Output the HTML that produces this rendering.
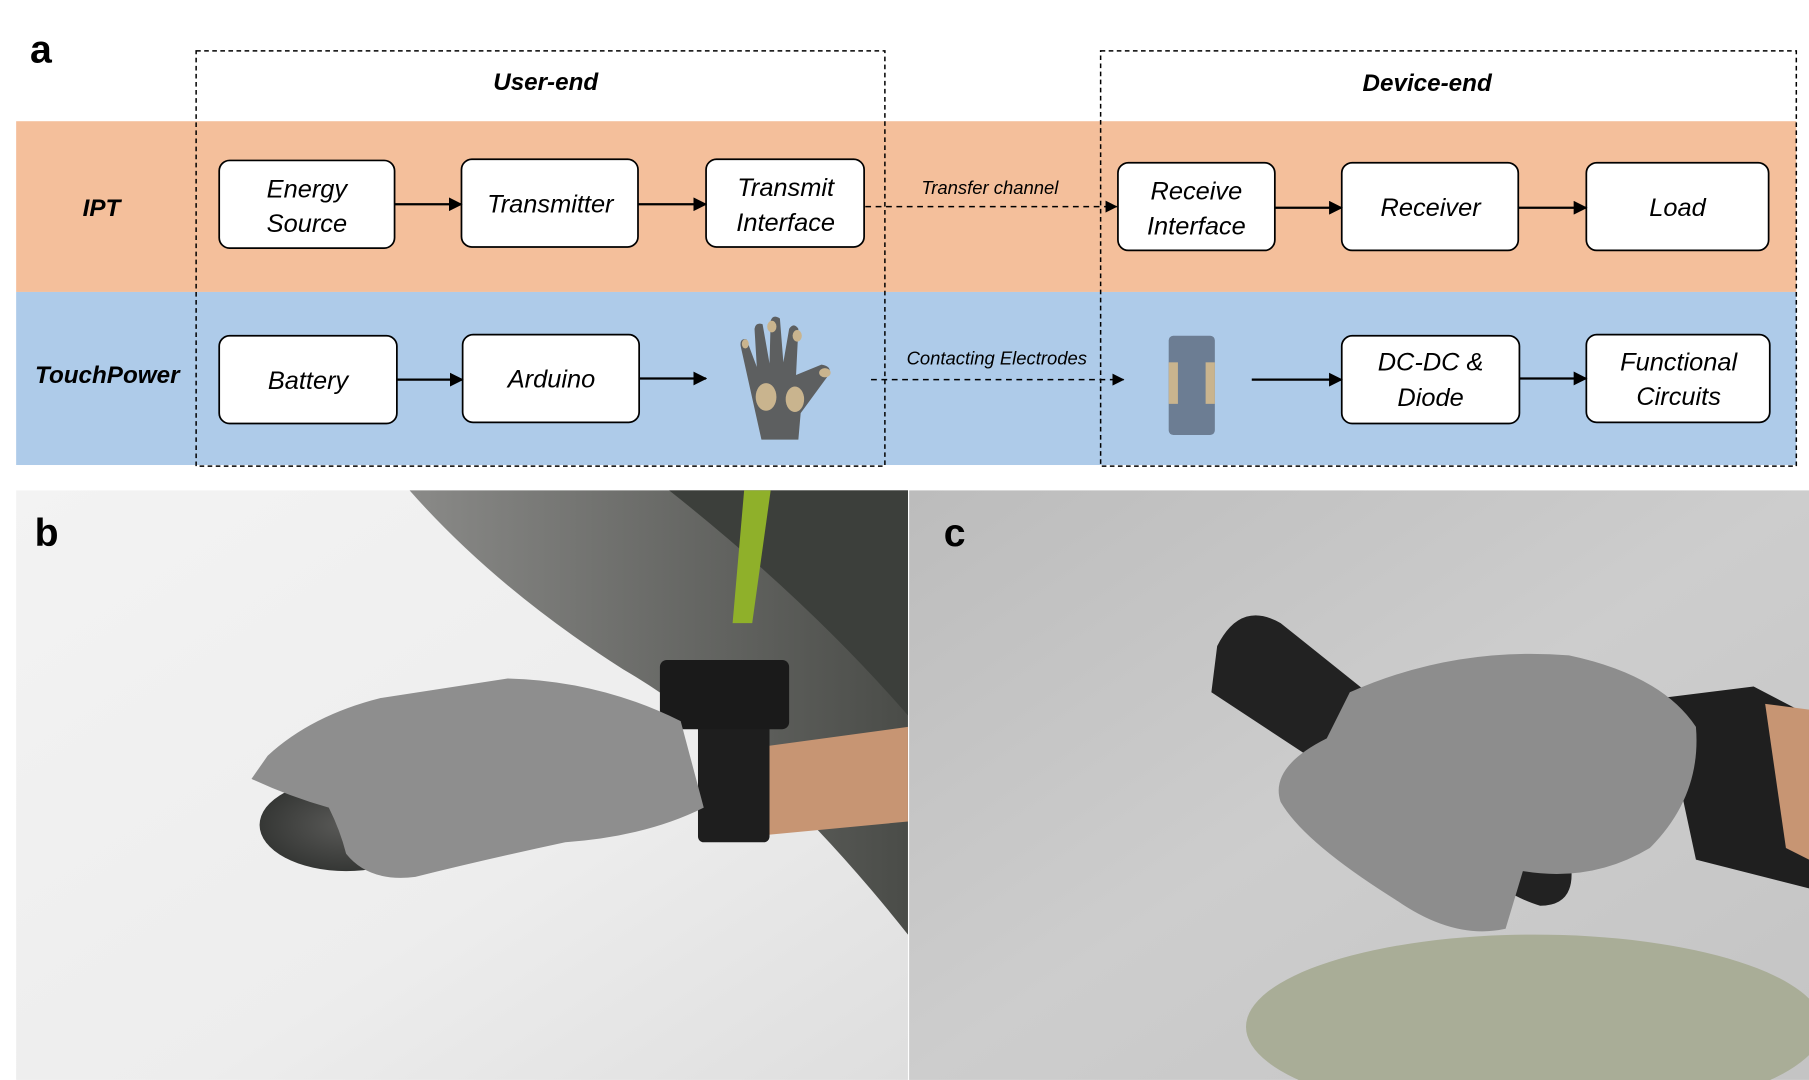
<!DOCTYPE html>
<html><head><meta charset="utf-8"><style>
html,body{margin:0;padding:0;background:#fff;width:1809px;height:1080px;overflow:hidden}
svg{display:block}
text{font-family:"Liberation Sans","DejaVu Sans",sans-serif}
</style></head><body>
<svg width="1809" height="1080" viewBox="0 0 1568 936" xmlns="http://www.w3.org/2000/svg">
<defs>
<marker id="ah" markerWidth="6" markerHeight="6" refX="5.5" refY="3" orient="auto" markerUnits="strokeWidth"><path d="M0,0 L6,3 L0,6z" fill="#000"/></marker>
<marker id="ah2" markerWidth="8" markerHeight="8" refX="7.5" refY="4" orient="auto" markerUnits="strokeWidth"><path d="M0,0 L8,4 L0,8z" fill="#000"/></marker>
<linearGradient id="gb" x1="0" y1="0" x2="1" y2="1"><stop offset="0" stop-color="#f3f3f3"/><stop offset="0.6" stop-color="#ededed"/><stop offset="1" stop-color="#dedede"/></linearGradient>
<linearGradient id="gc" x1="0" y1="0" x2="1" y2="1"><stop offset="0" stop-color="#bcbcbc"/><stop offset="0.5" stop-color="#cdcdcd"/><stop offset="1" stop-color="#c4c4c4"/></linearGradient>
<radialGradient id="gd" cx="0.5" cy="0.5" r="0.6"><stop offset="0" stop-color="#5a5a58"/><stop offset="1" stop-color="#2e302e"/></radialGradient>
<linearGradient id="gk" x1="0" y1="0" x2="1" y2="0"><stop offset="0" stop-color="#8a8a88"/><stop offset="1" stop-color="#4a4c48"/></linearGradient>
</defs>
<rect width="1568" height="936" fill="#fff"/>
<text x="26" y="54" font-size="34" font-weight="bold">a</text>
<rect x="14" y="105" width="1543" height="148" fill="#f4bf9b"/>
<rect x="14" y="253" width="1543" height="150" fill="#aecbe9"/>
<rect x="170" y="44" width="597" height="360" fill="none" stroke="#000" stroke-width="1.3" stroke-dasharray="4,3"/>
<rect x="954" y="44" width="603" height="360" fill="none" stroke="#000" stroke-width="1.3" stroke-dasharray="4,3"/>
<text x="473" y="78" font-size="21" font-weight="bold" font-style="italic" text-anchor="middle">User-end</text>
<text x="1237" y="79" font-size="21" font-weight="bold" font-style="italic" text-anchor="middle">Device-end</text>
<text x="88" y="187" font-size="21" font-weight="bold" font-style="italic" text-anchor="middle">IPT</text>
<text x="93" y="332" font-size="21" font-weight="bold" font-style="italic" text-anchor="middle">TouchPower</text>
<g font-size="22" font-style="italic" text-anchor="middle" fill="#000" stroke="#000" stroke-width="1.5">
<g><rect x="190" y="139" width="152" height="76" rx="9" fill="#fff"/><text x="266" y="171" stroke="none">Energy</text><text x="266" y="201" stroke="none">Source</text></g>
<g><rect x="400" y="138" width="153" height="76" rx="9" fill="#fff"/><text x="477" y="184" stroke="none">Transmitter</text></g>
<g><rect x="612" y="138" width="137" height="76" rx="9" fill="#fff"/><text x="681" y="170" stroke="none">Transmit</text><text x="681" y="200" stroke="none">Interface</text></g>
<g><rect x="969" y="141" width="136" height="76" rx="9" fill="#fff"/><text x="1037" y="173" stroke="none">Receive</text><text x="1037" y="203" stroke="none">Interface</text></g>
<g><rect x="1163" y="141" width="153" height="76" rx="9" fill="#fff"/><text x="1240" y="187" stroke="none">Receiver</text></g>
<g><rect x="1375" y="141" width="158" height="76" rx="9" fill="#fff"/><text x="1454" y="187" stroke="none">Load</text></g>
<g><rect x="190" y="291" width="154" height="76" rx="9" fill="#fff"/><text x="267" y="337" stroke="none">Battery</text></g>
<g><rect x="401" y="290" width="153" height="76" rx="9" fill="#fff"/><text x="478" y="336" stroke="none">Arduino</text></g>
<g><rect x="1163" y="291" width="154" height="76" rx="9" fill="#fff"/><text x="1240" y="321" stroke="none">DC-DC &amp;</text><text x="1240" y="352" stroke="none">Diode</text></g>
<g><rect x="1375" y="290" width="159" height="76" rx="9" fill="#fff"/><text x="1455" y="321" stroke="none">Functional</text><text x="1455" y="351" stroke="none">Circuits</text></g>
</g>
<g stroke="#000" stroke-width="2" marker-end="url(#ah)">
<line x1="342" y1="177" x2="400" y2="177"/>
<line x1="553" y1="177" x2="612" y2="177"/>
<line x1="1105" y1="180" x2="1163" y2="180"/>
<line x1="1316" y1="180" x2="1375" y2="180"/>
<line x1="344" y1="329" x2="401" y2="329"/>
<line x1="554" y1="328" x2="612" y2="328"/>
<line x1="1085" y1="329" x2="1163" y2="329"/>
<line x1="1317" y1="328" x2="1375" y2="328"/>
</g>
<g stroke="#000" stroke-width="1.3" stroke-dasharray="5,4" marker-end="url(#ah2)">
<line x1="750" y1="179" x2="968" y2="179"/>
<line x1="755" y1="329" x2="974" y2="329"/>
</g>
<text x="858" y="168" font-size="16" font-style="italic" text-anchor="middle">Transfer channel</text>
<text x="864" y="316" font-size="16" font-style="italic" text-anchor="middle">Contacting Electrodes</text>
<g fill="#5d5f60">
<path d="M660,381 L652,345 L642,300 Q641,293 647,294 L656,318 L654,285 Q655,279 661,281 L667,315 L668,278 Q670,272 676,276 L679,314 L684,285 Q688,279 692,285 L690,325 L712,316 Q724,318 716,328 L694,358 L692,381 Z"/>
<ellipse cx="664" cy="344" rx="9" ry="12" fill="#c9b48e"/><ellipse cx="689" cy="346" rx="8" ry="11" fill="#c9b48e"/>
<ellipse cx="669" cy="283" rx="4" ry="5" fill="#c9b48e"/><ellipse cx="691" cy="291" rx="4" ry="5" fill="#c9b48e"/><ellipse cx="646" cy="298" rx="3" ry="4" fill="#c9b48e"/>
<ellipse cx="715" cy="323" rx="5" ry="4" fill="#c9b48e"/>
</g>
<g>
<rect x="1013" y="291" width="40" height="86" rx="4" fill="#6c7d93"/>
<rect x="1013" y="314" width="8" height="36" fill="#c9b48e"/><rect x="1045" y="314" width="8" height="36" fill="#c9b48e"/>
</g>
<g>
<rect x="14" y="425" width="773" height="511" fill="url(#gb)"/>
<path d="M355,425 L787,425 L787,810 Q660,650 540,580 Q430,510 355,425z" fill="url(#gk)"/>
<path d="M580,425 L787,425 L787,620 Q700,520 580,425z" fill="#3c3f3b"/>
<path d="M645,425 L668,425 L652,540 L635,540z" fill="#8fb02a"/>
<path d="M640,650 L787,630 L787,712 L650,725z" fill="#c79573"/>
<rect x="605" y="615" width="62" height="115" rx="5" fill="#1e1e1e"/>
<rect x="572" y="572" width="112" height="60" rx="6" fill="#1a1a1a"/>
<ellipse cx="300" cy="715" rx="75" ry="40" fill="url(#gd)"/>
<path d="M232,655 Q270,620 330,605 L440,588 Q520,590 590,625 L610,700 Q560,725 490,730 Q420,745 360,760 Q320,765 300,740 Q295,720 285,700 Q250,690 218,675z" fill="#8e8e8e"/>
</g>
<text x="30" y="473" font-size="34" font-weight="bold">b</text>
<g>
<rect x="788" y="425" width="780" height="511" fill="url(#gc)"/>
<ellipse cx="1330" cy="890" rx="250" ry="80" fill="#a9ad97"/>
<path d="M1440,605 L1520,595 L1568,620 L1568,770 L1470,745z" fill="#1f1f1f"/>
<path d="M1530,610 L1568,615 L1568,745 L1548,735z" fill="#c79573"/>
<path d="M1055,560 Q1075,520 1110,540 L1360,740 Q1370,785 1335,785 Q1300,775 1240,725 L1050,600z" fill="#222"/>
<path d="M1170,600 Q1260,560 1360,568 Q1440,585 1470,630 Q1475,690 1430,735 Q1380,765 1320,755 L1305,805 Q1260,815 1210,780 Q1130,730 1110,695 Q1100,665 1150,640z" fill="#8d8d8d"/>
</g>
<text x="818" y="473" font-size="34" font-weight="bold">c</text>
</svg>
</body></html>
